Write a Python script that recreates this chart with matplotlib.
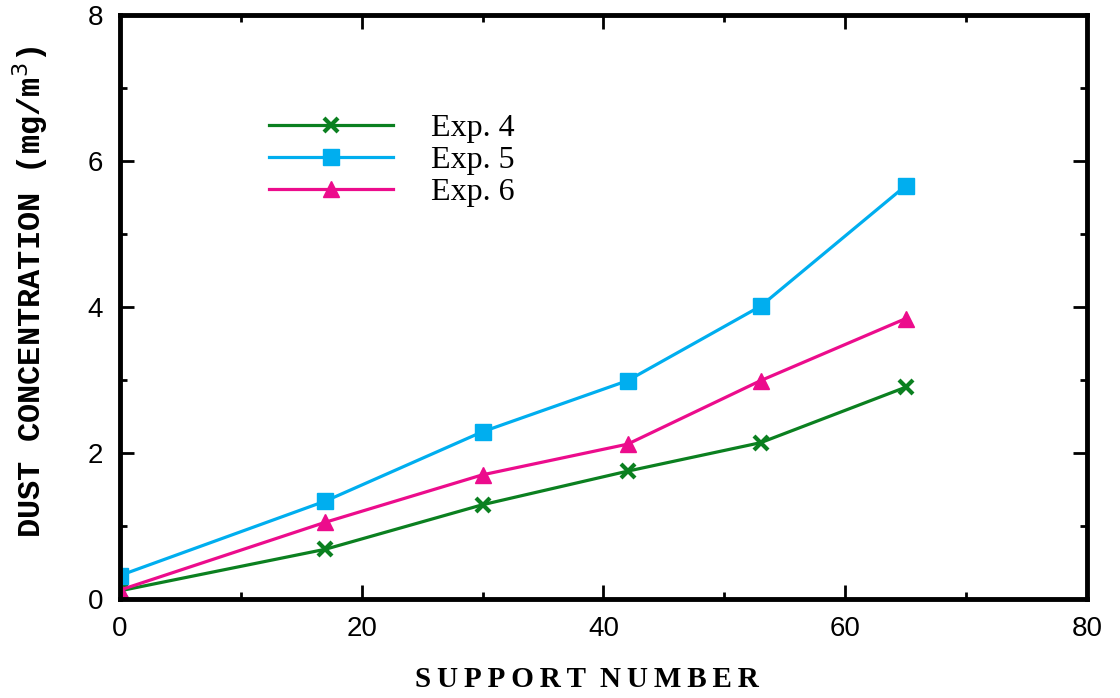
import numpy as np
import matplotlib
matplotlib.use("Agg")
import matplotlib.pyplot as plt
from matplotlib.ticker import MultipleLocator

support = [0, 17, 30, 42, 53, 65]
exp4 = [0.11, 0.68, 1.29, 1.75, 2.14, 2.90]
exp5 = [0.32, 1.34, 2.29, 2.99, 4.01, 5.66]
exp6 = [0.12, 1.05, 1.70, 2.12, 2.99, 3.84]

fig = plt.figure(figsize=(11.2, 6.98), dpi=100)
ax = fig.add_axes([0.107, 0.142, 0.8635, 0.8365])

ax.plot(support, exp4, color='#0b8020', lw=2.3, marker='x', ms=10, mew=3, label='Exp. 4')
ax.plot(support, exp5, color='#00aeef', lw=2.3, marker='s', ms=11, label='Exp. 5')
ax.plot(support, exp6, color='#ec0c8c', lw=2.3, marker='^', ms=11, label='Exp. 6')

ax.set_xlim(0, 80)
ax.set_ylim(0, 8)
ax.xaxis.set_major_locator(MultipleLocator(20))
ax.xaxis.set_minor_locator(MultipleLocator(10))
ax.yaxis.set_major_locator(MultipleLocator(2))
ax.yaxis.set_minor_locator(MultipleLocator(1))
ax.tick_params(which='both', direction='in', top=True, right=True, width=2)
ax.tick_params(which='major', length=10)
ax.tick_params(which='minor', length=5)
ax.tick_params(axis='both', labelsize=20, pad=12)
for lab in ax.get_xticklabels() + ax.get_yticklabels():
    lab.set_family('Liberation Sans')
for s in ax.spines.values():
    s.set_linewidth(3.5)

# letter-spaced axis title
xtitle = '\u2009'.join('SUPPORT') + '  ' + '\u2009'.join('NUMBER')
ax.set_xlabel(xtitle, family='Liberation Serif', weight='bold', fontsize=21)
ax.xaxis.set_label_coords(0.483, -0.115)
ax.set_ylabel('DUST CONCENTRATION (mg/m$^3$)', family='Liberation Mono', weight='bold',
              fontsize=23)
ax.yaxis.set_label_coords(-0.072, 0.525)

leg = ax.legend(loc='upper left', bbox_to_anchor=(0.124, 0.88), frameon=False,
                prop={'family': 'Liberation Serif', 'size': 23},
                handlelength=3.9, handletextpad=1.2, labelspacing=0.08)

fig.savefig('out.png', dpi=100)
